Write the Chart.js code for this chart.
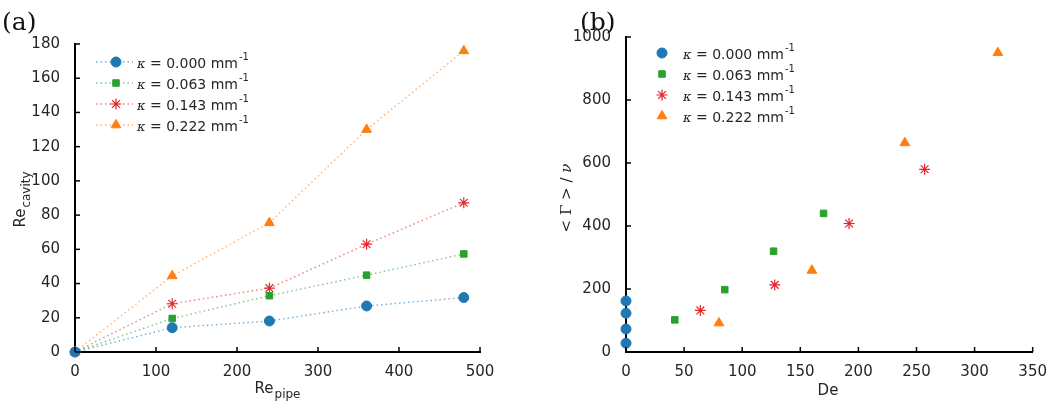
<!DOCTYPE html>
<html>
<head>
<meta charset="utf-8">
<script src="https://cdn.jsdelivr.net/npm/chart.js@4.4.0/dist/chart.umd.min.js"></script>
<style>
  body { margin: 0; background: #fff; }
  .wrap { position: absolute; top: 0; width: 525px; height: 408px; }
  #boxA { left: 0; }
  #boxB { left: 525px; }
</style>
</head>
<body>
<div class="wrap" id="boxA"><canvas id="chartA" width="525" height="408"></canvas></div>
<div class="wrap" id="boxB"><canvas id="chartB" width="525" height="408"></canvas></div>
<script>
// ---- data (a) ----
const rePipe = [0, 120, 240, 360, 480];
const reCav000 = [0, 14.2, 18.1, 26.9, 31.8];
const reCav063 = [0, 19.6, 32.9, 44.9, 57.3];
const reCav143 = [0, 28.2, 37.3, 63.0, 87.2];
const reCav222 = [0, 44.5, 75.5, 130, 176];

// ---- data (b) ----
const de000 = [0, 0, 0, 0];
const gam000 = [28, 73, 123, 162];
const de063 = [42, 85, 127, 170];
const gam063 = [102, 198, 320, 440];
const de143 = [64, 128, 192, 257];
const gam143 = [132, 213, 408, 580];
const de222 = [80, 160, 240, 320];
const gam222 = [92, 259, 664, 950];

const kappaLabels = ["0.000", "0.063", "0.143", "0.222"];
const colors = ["#1f77b4", "#2ca02c", "#e3262b", "#ff7f0e"];
const lineColors = ["rgba(31,119,180,0.6)", "rgba(44,160,44,0.6)", "rgba(227,38,43,0.6)", "rgba(255,127,14,0.6)"];
const styles = ["circle", "rect", "star", "triangle"];
const radii = [5, 4.6, 5.5, 5.6];

const TXT = "#262626";
const FONT = "DejaVu Sans";

function pts(xs, ys) {
  return xs.map((x, i) => ({ x: x, y: ys[i] }));
}

function makeSet(i, data, showLine) {
  return {
    data: data,
    showLine: showLine,
    borderColor: showLine ? lineColors[i] : colors[i],
    borderWidth: 1.4,
    borderDash: [1.5, 3],
    pointStyle: styles[i],
    pointRadius: radii[i],
    pointHoverRadius: radii[i],
    pointBackgroundColor: colors[i],
    pointBorderColor: colors[i],
    pointBorderWidth: styles[i] === "star" ? 1.2 : 1,
    clip: false,
  };
}

// text with subscript, centred on (x, y) baseline, optional rotation
function subText(ctx, main, sub, x, y, rot) {
  ctx.save();
  ctx.translate(x, y);
  if (rot) ctx.rotate(rot);
  ctx.fillStyle = TXT;
  ctx.textBaseline = "alphabetic";
  ctx.font = "15px " + FONT;
  const w1 = ctx.measureText(main).width;
  ctx.font = "12px " + FONT;
  const w2 = ctx.measureText(sub).width;
  const x0 = -(w1 + w2) / 2;
  ctx.font = "15px " + FONT;
  ctx.textAlign = "left";
  ctx.fillText(main, x0, 0);
  ctx.font = "12px " + FONT;
  ctx.fillText(sub, x0 + w1 + 1, 5);
  ctx.restore();
}

// inward tick marks on both axes
const inwardTicks = {
  id: "inwardTicks",
  afterDraw(chart) {
    const ctx = chart.ctx;
    const xs = chart.scales.x, ys = chart.scales.y;
    const a = chart.chartArea;
    ctx.save();
    ctx.strokeStyle = "#000";
    ctx.lineWidth = 1.5;
    xs.ticks.forEach(t => {
      const px = xs.getPixelForValue(t.value);
      ctx.beginPath(); ctx.moveTo(px, a.bottom); ctx.lineTo(px, a.bottom - 5); ctx.stroke();
    });
    ys.ticks.forEach(t => {
      const py = ys.getPixelForValue(t.value);
      ctx.beginPath(); ctx.moveTo(a.left, py); ctx.lineTo(a.left + 5, py); ctx.stroke();
    });
    ctx.restore();
  }
};

// legend + titles drawn by hand
const decor = {
  id: "decor",
  afterDraw(chart, args, opts) {
    const ctx = chart.ctx;
    ctx.save();
    // panel letter
    ctx.fillStyle = "#111";
    ctx.font = "25px 'DejaVu Serif'";
    ctx.textAlign = "left";
    ctx.textBaseline = "alphabetic";
    ctx.fillText(opts.letter, opts.letterX, 30);

    // legend
    kappaLabels.forEach((k, i) => {
      const y = opts.legY + i * 21;
      if (opts.legLine) {
        ctx.save();
        ctx.strokeStyle = lineColors[i];
        ctx.lineWidth = 1.4;
        ctx.setLineDash([1.5, 3]);
        ctx.beginPath(); ctx.moveTo(opts.legX - 20, y); ctx.lineTo(opts.legX + 17, y); ctx.stroke();
        ctx.restore();
      }
      ctx.fillStyle = colors[i];
      ctx.strokeStyle = colors[i];
      ctx.lineWidth = styles[i] === "star" ? 1.2 : 1;
      Chart.helpers.drawPoint(ctx, { pointStyle: styles[i], radius: radii[i], rotation: 0, borderWidth: ctx.lineWidth }, opts.legX, y);
      ctx.fillStyle = TXT;
      ctx.textBaseline = "middle";
      ctx.textAlign = "left";
      let tx = opts.textX;
      ctx.font = "italic 13px 'DejaVu Serif'";
      ctx.fillText("\u03ba", tx, y + 3);
      tx += ctx.measureText("\u03ba").width;
      ctx.font = "14px " + FONT;
      const s = " = " + k + " mm";
      ctx.fillText(s, tx, y + 2);
      tx += ctx.measureText(s).width;
      ctx.font = "10px " + FONT;
      ctx.fillText("-1", tx + 1, y - 5);
    });
    ctx.restore();
    opts.titles(ctx);
  }
};

const tickFont = { family: FONT, size: 15 };

function baseScales(xMin, xMax, xStep, yMin, yMax, yStep, yWidth) {
  return {
    x: {
      type: "linear", min: xMin, max: xMax,
      ticks: { stepSize: xStep, color: TXT, font: tickFont, padding: 3, maxRotation: 0, callback: v => String(v) },
      grid: { display: false },
      border: { display: true, color: "#000", width: 2 },
      afterFit(s) { s.height = 56; }
    },
    y: {
      type: "linear", min: yMin, max: yMax,
      ticks: { stepSize: yStep, color: TXT, font: tickFont, padding: 7, callback: v => String(v) },
      grid: { display: false },
      border: { display: true, color: "#000", width: 2 },
      afterFit(s) { s.width = yWidth; }
    }
  };
}

new Chart(document.getElementById("chartA"), {
  type: "scatter",
  data: {
    datasets: [
      makeSet(0, pts(rePipe, reCav000), true),
      makeSet(1, pts(rePipe, reCav063), true),
      makeSet(2, pts(rePipe, reCav143), true),
      makeSet(3, pts(rePipe, reCav222), true),
    ]
  },
  options: {
    responsive: false,
    animation: false,
    layout: { padding: { top: 44, right: 45, left: 0, bottom: 0 } },
    plugins: {
      legend: { display: false },
      tooltip: { enabled: false },
      decor: {
        letter: "(a)", letterX: 2, legX: 116, textX: 137, legY: 62, legLine: true,
        titles(ctx) {
          subText(ctx, "Re", "cavity", 25, 200, -Math.PI / 2);
          subText(ctx, "Re", "pipe", 277, 393, 0);
        }
      }
    },
    scales: baseScales(0, 500, 100, 0, 180, 20, 75)
  },
  plugins: [inwardTicks, decor]
});

new Chart(document.getElementById("chartB"), {
  type: "scatter",
  data: {
    datasets: [
      makeSet(0, pts(de000, gam000), false),
      makeSet(1, pts(de063, gam063), false),
      makeSet(2, pts(de143, gam143), false),
      makeSet(3, pts(de222, gam222), false),
    ]
  },
  options: {
    responsive: false,
    animation: false,
    layout: { padding: { top: 37, right: 15, left: 0, bottom: 0 } },
    plugins: {
      legend: { display: false },
      tooltip: { enabled: false },
      decor: {
        letter: "(b)", letterX: 55, legX: 137, textX: 158, legY: 53, legLine: false,
        titles(ctx) {
          ctx.save();
          ctx.translate(46, 198);
          ctx.rotate(-Math.PI / 2);
          ctx.fillStyle = TXT;
          ctx.textBaseline = "alphabetic";
          ctx.font = "15px 'DejaVu Serif'";
          const a = "< \u0393 > / ";
          const wa = ctx.measureText(a).width;
          ctx.font = "italic 15px 'DejaVu Serif'";
          const wb = ctx.measureText("\u03bd").width;
          ctx.font = "15px 'DejaVu Serif'";
          ctx.fillText(a, -(wa + wb) / 2, 0);
          ctx.font = "italic 15px 'DejaVu Serif'";
          ctx.fillText("\u03bd", -(wa + wb) / 2 + wa, 0);
          ctx.restore();
          ctx.save();
          ctx.fillStyle = TXT;
          ctx.font = "15px " + FONT;
          ctx.textAlign = "center";
          ctx.textBaseline = "alphabetic";
          ctx.fillText("De", 303, 395);
          ctx.restore();
        }
      }
    },
    scales: baseScales(0, 350, 50, 0, 1000, 200, 101)
  },
  plugins: [inwardTicks, decor]
});
</script>
</body>
</html>
